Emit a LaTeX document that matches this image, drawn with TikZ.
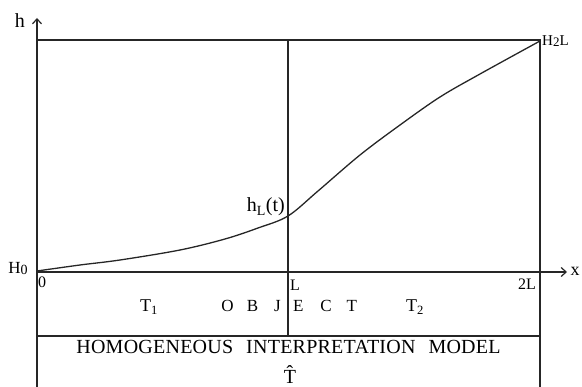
\documentclass[tikz,border=0pt]{standalone}
\usepackage{fontspec}
\setmainfont{Liberation Serif}
\usetikzlibrary{arrows.meta}
\begin{document}
\begin{tikzpicture}[x=1pt,y=-1pt,
  frame/.style={line width=1.4pt,draw=black!85},
  axis/.style={line width=1.3pt,draw=black!85,-{Straight Barb[length=5pt,width=9pt,line width=1.2pt]}},
  curve/.style={line width=1.3pt,draw=black!85},
  lbl/.style={font=\fontsize{15}{17}\selectfont,inner sep=0pt},
  mid/.style={font=\fontsize{18}{20}\selectfont,inner sep=0pt},
  big/.style={font=\fontsize{20}{22}\selectfont,inner sep=0pt}]
\useasboundingbox (0,0) rectangle (582,387);
% key coordinates
\coordinate (O) at (37,272);
\coordinate (ytop) at (37,18);
\coordinate (ybot) at (37,387);
\coordinate (xend) at (567,272);
\coordinate (TL) at (37,40);
\coordinate (TR) at (540,40);
\coordinate (RB) at (540,387);
\coordinate (MT) at (288,40);
\coordinate (MB) at (288,336);
\coordinate (BL) at (37,336);
\coordinate (BR) at (540,336);
% frame
\draw[axis] (ybot) -- (ytop);
\draw[axis] (O) -- (xend);
\draw[frame] (TL) -- (TR) -- (RB);
\draw[frame] (MT) -- (MB);
\draw[frame] (BL) -- (BR);
% curve
\draw[curve] plot[smooth,tension=0.55] coordinates {(37,271) (80,265) (120,260) (180,250) (225,239) (258,228) (288,216) (318,191) (360,155) (400,125) (440,97) (480,74) (540,41)};
% labels
\node[mid,font=\fontsize{20}{22}\selectfont] (h) at (20,21) {h};
\node[lbl,font=\fontsize{18}{20}\selectfont] (x) at (575,271) {x};
\node[lbl,anchor=west] (H2L) at (542,41) {H\raisebox{-0.5pt}{\fontsize{13}{15}\selectfont 2}L};
\node[lbl,font=\fontsize{17}{19}\selectfont] (H0) at (18,269) {H\raisebox{-1pt}{\fontsize{14}{15}\selectfont 0}};
\node[lbl,font=\fontsize{16}{18}\selectfont] (zero) at (42,282) {0};
\node[lbl,font=\fontsize{16}{18}\selectfont] (L) at (295,285) {L};
\node[lbl,font=\fontsize{16}{18}\selectfont] (twoL) at (527,284) {2L};
\node[big,anchor=base east] (hLt) at (285,212) {h\textsubscript{L}(t)};
\node[mid] (T1) at (149,307) {T\textsubscript{1}};
\node[lbl,font=\fontsize{17}{19}\selectfont] (obj) at (289.2,306) {O\hspace{13.2pt}B\hspace{15.9pt}J\hspace{12.2pt}E\hspace{17pt}C\hspace{14.8pt}T};
\node[mid] (T2) at (415,307) {T\textsubscript{2}};
\node[big] (model) at (288.5,347) {\addfontfeatures{LetterSpace=1.2}HOMOGENEOUS\hspace{13pt}INTERPRETATION\hspace{13pt}MODEL};
\node[big,anchor=base] (That) at (290,383.5) {\^{T}};
\end{tikzpicture}
\end{document}
